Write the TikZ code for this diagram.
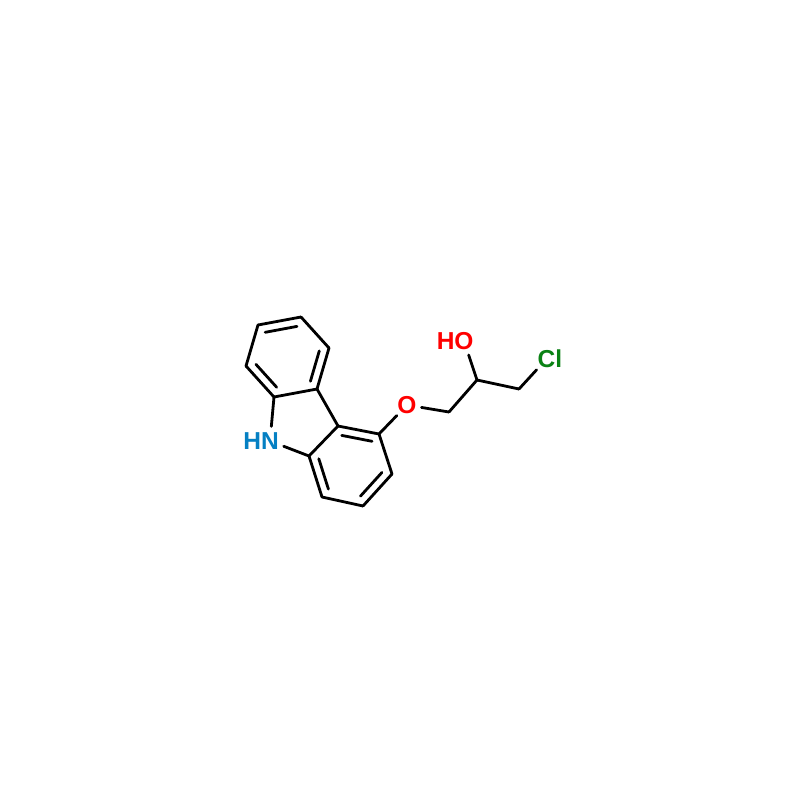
\documentclass[tikz,border=0pt]{standalone}
\usepackage{fontspec}
\setmainfont{Liberation Sans}
\usetikzlibrary{calc}
\definecolor{nblue}{RGB}{5,128,195}
\definecolor{ored}{RGB}{255,0,0}
\definecolor{clgreen}{RGB}{10,130,20}
\tikzset{
  bond/.style={line width=2.8pt,line cap=round,line join=round,black},
  atomlabel/.style={circle,inner sep=0pt,minimum size=29pt,font=\fontsize{24.5}{24.5}\selectfont\bfseries}
}
\newcommand{\innerbond}[2]{\draw[bond] ($(#1)!.13!(#2)!8.5pt!-90:(#2)$) -- ($(#2)!.13!(#1)!8.5pt!90:(#1)$);}
\begin{document}
\begin{tikzpicture}[x=1pt,y=-1pt]
\useasboundingbox[fill=white] (0,0) rectangle (800,800);
\coordinate (a) at (258,325);
\coordinate (b) at (301,317);
\coordinate (c) at (329,348);
\coordinate (d) at (317,389);
\coordinate (e) at (274,397);
\coordinate (f) at (246,366);
\coordinate (g) at (338,426);
\coordinate (h) at (379,434);
\coordinate (i) at (392,474);
\coordinate (j) at (363,506);
\coordinate (k) at (322,497);
\coordinate (l) at (309,456);
\coordinate (m) at (449,412);
\coordinate (n) at (477,380);
\coordinate (o) at (519,389);
\node[atomlabel,text=nblue] (N) at (270,441) {\llap{H}N};
\node[atomlabel,text=ored] (O1) at (407,405) {O};
\node[atomlabel,text=ored] (O2) at (464,341) {\llap{H}O};
\node[atomlabel,text=clgreen] (Cl) at (546.5,359) {C\rlap{l}};
\foreach \p/\q in {a/b,b/c,c/d,d/e,e/f,f/a,g/h,h/i,i/j,j/k,k/l,l/g,d/g,e/N,l/N,h/O1,O1/m,m/n,n/O2,n/o,o/Cl}
  \draw[bond] (\p) -- (\q);
\innerbond{a}{b}
\innerbond{c}{d}
\innerbond{e}{f}
\innerbond{g}{h}
\innerbond{i}{j}
\innerbond{k}{l}
\end{tikzpicture}
\end{document}
